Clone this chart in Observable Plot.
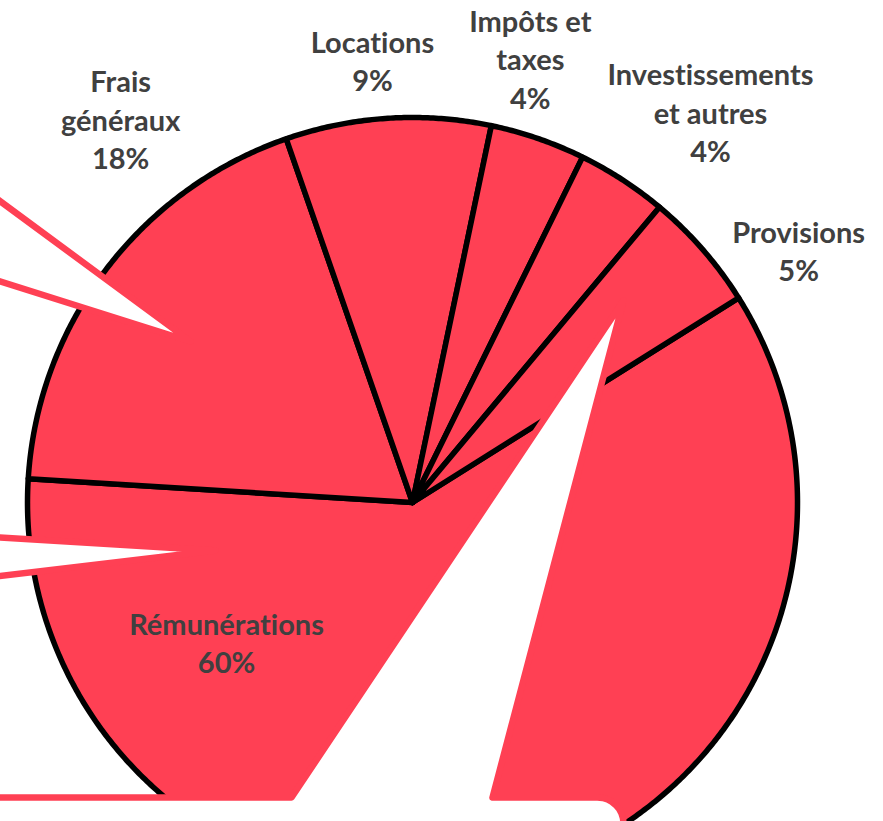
<!DOCTYPE html>
<html>
<head>
<meta charset="utf-8">
<script src="https://cdn.jsdelivr.net/npm/d3@7"></script>
<script src="https://cdn.jsdelivr.net/npm/@observablehq/plot@0.6"></script>
<style>
  html, body { margin: 0; padding: 0; background: #fff; }
  #chart { width: 883px; height: 821px; overflow: hidden; position: relative; }
  #chart svg { display: block; }
  #chart text, #chart tspan { font-variant-ligatures: none; font-feature-settings: "liga" 0, "clig" 0; }
</style>
</head>
<body>
<div id="chart"></div>
<script>
// ---- Data ----
const categories = ["Rémunérations", "Frais généraux", "Locations", "Impôts et taxes", "Investissements et autres", "Provisions"];
const values = [59.9, 18.7, 8.6, 4.0, 3.8, 5.0];
const percentLabels = ["60%", "18%", "9%", "4%", "4%", "5%"];
const labelNames = ["Rémunérations", "Frais\ngénéraux", "Locations", "Impôts et\ntaxes", "Investissements\net autres", "Provisions"];

// ---- Layout (chart units: pie radius = 1, centre = 0,0) ----
const W = 883, H = 821;
const R = 385, CX = 412, CY = 502;          // pixel placement of the pie
const startDeg = 57.9;                       // rotation of the first slice
const labelU = [-0.483, -0.758, -0.104, 0.306, 0.774, 1.003];
const labelV = [-0.362, 0.998, 1.150, 1.155, 1.016, 0.657];

const pieColor = "#FF4054";
const textColor = "#404040";

// decorative callout shapes of the slide (pixel outlines)
const calloutShapes = [
  {id: "c1", pts: [[-60, 156.8], [190, 341], [-60, 262.2]]},
  {id: "c2", pts: [[-60, 533.4], [215, 550], [-60, 582.6]]},
  {id: "c3", pts: (() => {
    const p = [[-60, 797], [291, 797], [623, 300], [492, 797], [597, 797]];
    for (let a = 1; a <= 8; a++) {
      const t = a / 8 * Math.PI / 2;
      p.push([597 + 26 * Math.sin(t), 823 - 26 * Math.cos(t)]);
    }
    p.push([623, 900], [-60, 900]);
    return p;
  })()}
];

// ---- Build slices ----
const pie = d3.pie().sort(null).value(d => d.value)
  .startAngle(startDeg * Math.PI / 180)
  .endAngle(startDeg * Math.PI / 180 + 2 * Math.PI);
const arcs = pie(categories.map((c, i) => ({name: c, value: values[i]})));

const slicePts = [];
arcs.forEach(a => {
  const n = Math.max(2, Math.ceil((a.endAngle - a.startAngle) / (0.4 * Math.PI / 180)));
  slicePts.push({name: a.data.name, x: 0, y: 0});
  for (let k = 0; k <= n; k++) {
    const t = a.startAngle + (a.endAngle - a.startAngle) * k / n;
    slicePts.push({name: a.data.name, x: Math.sin(t), y: Math.cos(t)});
  }
  slicePts.push({name: a.data.name, x: 0, y: 0});
});

const toU = px => (px - CX) / R;
const toV = py => (CY - py) / R;
const calloutPts = [];
calloutShapes.forEach(s => {
  const pts = s.pts.concat([s.pts[0]]);
  pts.forEach(([px, py]) => calloutPts.push({id: s.id, x: toU(px), y: toV(py)}));
});

const labels = categories.map((c, i) => ({
  text: labelNames[i] + "\n" + percentLabels[i],
  x: labelU[i], y: labelV[i]
}));

const chart = Plot.plot({
  width: W,
  height: H,
  margin: 0,
  x: {domain: [toU(0), toU(W)], axis: null},
  y: {domain: [toV(H), toV(0)], axis: null},
  style: {background: "#fff", overflow: "hidden"},
  marks: [
    Plot.line(slicePts, {x: "x", y: "y", z: "name", fill: pieColor, stroke: "#000", strokeWidth: 5.5, strokeLinejoin: "round"}),
    Plot.line(calloutPts, {x: "x", y: "y", z: "id", fill: "#fff", stroke: pieColor, strokeWidth: 6.5, strokeLinejoin: "round"}),
    Plot.text(labels, {
      x: "x", y: "y", text: "text",
      fontFamily: "Lato, 'Open Sans', sans-serif",
      fontSize: 29, fontWeight: "bold", fill: textColor,
      lineHeight: 1.33, textAnchor: "middle"
    })
  ]
});
document.getElementById("chart").appendChild(chart);
</script>
</body>
</html>
